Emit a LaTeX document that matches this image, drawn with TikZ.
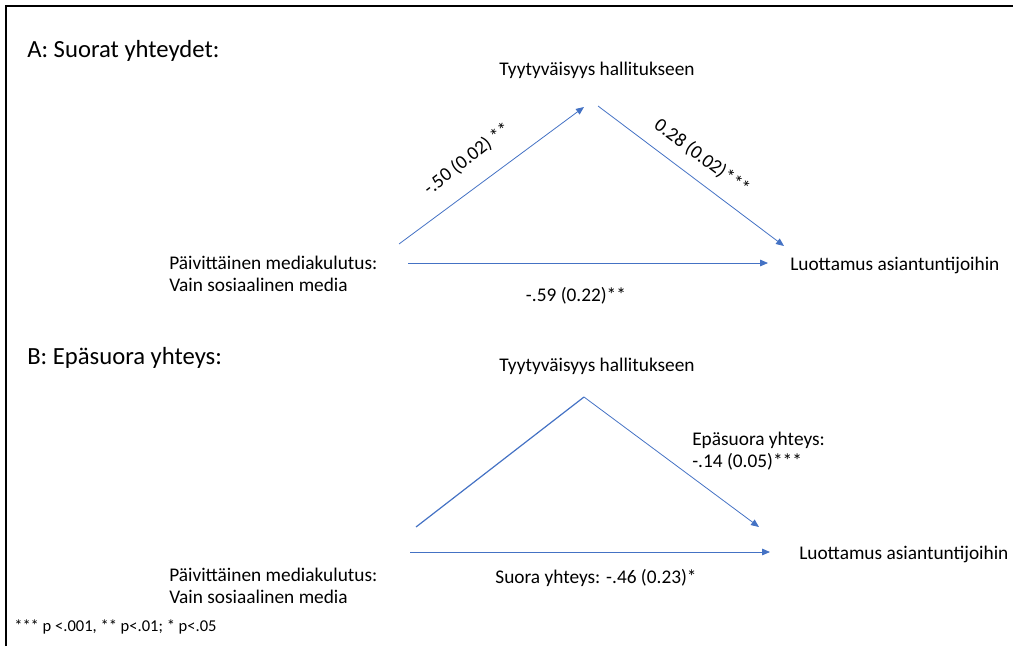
\documentclass[tikz,border=0pt]{standalone}
\usepackage{fontspec}
\setmainfont{Carlito}
\usetikzlibrary{arrows.meta, positioning}
\definecolor{cblue}{HTML}{4472C4}
\tikzset{
  every picture/.style={font=\fontsize{14.5}{16.5}\selectfont},
  arrow/.style={-{Triangle[length=6pt, width=5pt]}, draw=cblue, line width=0.6pt},
  link/.style={draw=cblue, line width=0.9pt},
  txt/.style={inner sep=0pt, align=left},
  title/.style={font=\fontsize{18.5}{21}\selectfont, inner sep=0pt},
  note/.style={font=\fontsize{12.4}{14}\selectfont, inner sep=0pt},
}

\begin{document}
\begin{tikzpicture}[x=0.75pt, y=-0.75pt]
  \useasboundingbox (0,0) rectangle (1013,646);
  \draw[line width=1.2pt] (6,646) -- (6,6) -- (1013,6);
  % A: direct paths
  \node[title, anchor=west] (titleA) at (27,51) {A: Suorat yhteydet:};
  \node[txt] (medA) at (597,70) {Tyytyväisyys hallitukseen};
  \node[txt, anchor=west] (srcA) at (169,274) {Päivittäinen mediakulutus:\\Vain sosiaalinen media};
  \node[txt, anchor=west] (outA) at (790,265) {Luottamus asiantuntijoihin};
  \coordinate (a1) at (399,244);
  \coordinate (a2) at (584,107);
  \coordinate (a3) at (598,106);
  \coordinate (a4) at (784,246);
  \coordinate (a5) at (408,263);
  \coordinate (a6) at (768,263);
  \draw[arrow] (a1) -- (a2);
  \draw[arrow] (a3) -- (a4);
  \draw[arrow] (a5) -- (a6);
  \node[txt, rotate=38] (pathA1) at (467,159) {-.50 (0.02) **};
  \node[txt, rotate=-37] (pathA2) at (702,157) {0.28 (0.02)***};
  \node[txt] (pathA3) at (576,296) {-.59 (0.22)**};
  % B: indirect path
  \node[title, anchor=west] (titleB) at (27,358) {B: Epäsuora yhteys:};
  \node[txt] (medB) at (597,366) {Tyytyväisyys hallitukseen};
  \node[txt, anchor=west] (srcB) at (169,586) {Päivittäinen mediakulutus:\\Vain sosiaalinen media};
  \node[txt, anchor=west] (outB) at (799,554) {Luottamus asiantuntijoihin};
  \coordinate (b1) at (416,527);
  \coordinate (b2) at (584,397);
  \coordinate (b3) at (759,527);
  \coordinate (b4) at (410,552);
  \coordinate (b5) at (770,552);
  \draw[link] (b1) -- (b2);
  \draw[arrow] (b2) -- (b3);
  \draw[arrow] (b4) -- (b5);
  \node[txt, anchor=west] (pathB1) at (692,451) {Epäsuora yhteys:\\-.14 (0.05)***};
  \node[txt] (pathB2) at (596,578) {Suora yhteys: -.46 (0.23)*};
  \node[note, anchor=west] (sig) at (14,627) {*** p <.001, ** p<.01; * p<.05};
\end{tikzpicture}
\end{document}
